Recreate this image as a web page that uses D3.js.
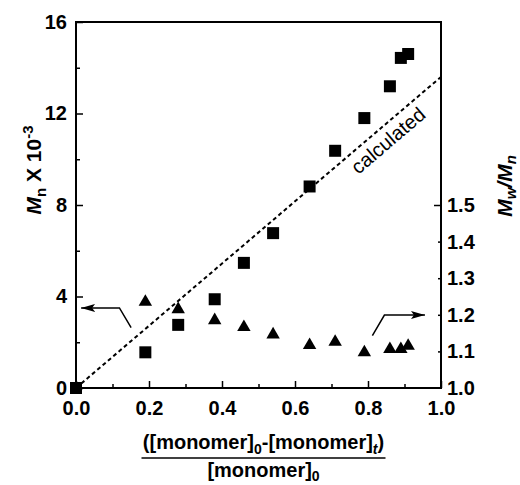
<!DOCTYPE html>
<html>
<head>
<meta charset="utf-8">
<script src="https://cdn.jsdelivr.net/npm/d3@7"></script>
<style>
  body { margin: 0; background: #fff; }
  text { font-family: Arial, "Liberation Sans", Helvetica, sans-serif; }
</style>
</head>
<body>
<svg id="chart" width="520" height="485"></svg>
<script>
// conversion ([M]0-[M]t)/[M]0
const conversion = [0, 0.19, 0.28, 0.38, 0.46, 0.54, 0.64, 0.71, 0.79, 0.86, 0.89, 0.91];
// Mn x 10^-3 (squares)
const mnValues = [0, 1.56, 2.76, 3.88, 5.47, 6.77, 8.81, 10.37, 11.8, 13.19, 14.43, 14.6];
// Mw/Mn (triangles), none at zero conversion
const pdiValues = [null, 1.235, 1.215, 1.185, 1.166, 1.146, 1.117, 1.126, 1.097, 1.106, 1.106, 1.115];
// calculated Mn line
const calcX = [0, 1];
const calcMn = [0, 13.6];

const xTicks = [0, 0.2, 0.4, 0.6, 0.8, 1.0];
const mnTicks = [0, 4, 8, 12, 16];
const pdiTicks = [1.0, 1.1, 1.2, 1.3, 1.4, 1.5];

const svg = d3.select("#chart");
const margin = { left: 76, right: 79, top: 22, bottom: 97 };
const width = 520 - margin.left - margin.right,
      height = 485 - margin.top - margin.bottom;

const g = svg.append("g").attr("transform", `translate(${margin.left},${margin.top})`);

const x = d3.scaleLinear().domain([0, 1]).range([0, width]);
const y = d3.scaleLinear().domain([0, 16]).range([height, 0]);
const y2 = d3.scaleLinear().domain([1.0, 2.0]).range([height, 0]);

// minor ticks first
g.append("g")
    .attr("transform", `translate(0,${height})`)
    .call(d3.axisBottom(x).tickValues([0.1, 0.3, 0.5, 0.7, 0.9]).tickSize(-4).tickFormat(""))
    .call(a => a.select(".domain").remove());
g.append("g")
    .call(d3.axisLeft(y).tickValues([2, 6, 10, 14]).tickSize(-4).tickFormat(""))
    .call(a => a.select(".domain").remove());
g.append("g")
    .attr("transform", `translate(${width},0)`)
    .call(d3.axisRight(y2).tickValues([1.1, 1.2, 1.3, 1.4]).tickSize(-3).tickFormat(""))
    .call(a => a.select(".domain").remove());

// major axes
const xAxis = g.append("g")
    .attr("transform", `translate(0,${height})`)
    .call(d3.axisBottom(x).tickValues(xTicks).tickSize(-7).tickPadding(13).tickFormat(d3.format(".1f")));
const yAxis = g.append("g")
    .call(d3.axisLeft(y).tickValues(mnTicks).tickSize(-7).tickPadding(9).tickFormat(d3.format("d")));
const y2Axis = g.append("g")
    .attr("transform", `translate(${width},0)`)
    .call(d3.axisRight(y2).tickValues(pdiTicks).tickSize(0).tickPadding(6).tickFormat(d3.format(".1f")));
g.append("g")
    .attr("transform", `translate(${width},0)`)
    .call(d3.axisRight(y2).tickValues([1.5]).tickSize(-7).tickFormat(""))
    .call(a => a.select(".domain").remove());

[xAxis, yAxis, y2Axis].forEach(a => {
    a.select(".domain").remove();
    a.selectAll("text").style("font-size", "20px").style("font-weight", "bold").attr("fill", "#000");
});
g.selectAll(".tick line").attr("stroke", "#000").attr("stroke-width", 1.5);

// frame
g.append("rect")
    .attr("width", width).attr("height", height)
    .attr("fill", "none").attr("stroke", "#000").attr("stroke-width", 2);

// calculated line
const calcData = calcX.map((d, i) => [d, calcMn[i]]);
g.append("path")
    .datum(calcData)
    .attr("d", d3.line().x(d => x(d[0])).y(d => y(d[1])))
    .attr("fill", "none").attr("stroke", "#000")
    .attr("stroke-width", 2).attr("stroke-dasharray", "4,3");

const angle = Math.atan2(y(calcMn[1]) - y(calcMn[0]), x(calcX[1]) - x(calcX[0])) * 180 / Math.PI;
const lx = 0.83, ly = calcMn[1] * lx;
const rad = angle * Math.PI / 180;
const off = 21;
g.append("text")
    .attr("transform", `translate(${x(lx) - Math.sin(rad) * off},${y(ly) + Math.cos(rad) * off}) rotate(${angle})`)
    .attr("text-anchor", "middle")
    .style("font-size", "20px")
    .text("calculated");

// annotation arrows
const defs = svg.append("defs");
defs.append("marker")
    .attr("id", "arrow")
    .attr("viewBox", "0 0 14 8")
    .attr("refX", 14).attr("refY", 4)
    .attr("markerUnits", "userSpaceOnUse")
    .attr("markerWidth", 14).attr("markerHeight", 8)
    .attr("orient", "auto")
    .append("path").attr("d", "M0,0 L14,4 L0,8 L3,4 Z").attr("fill", "#000");

const leftArrow = [[0.151, 2.64], [0.119, 3.5], [0.014, 3.5]];
const rightArrow = [[0.812, 2.29], [0.845, 3.19], [0.956, 3.19]];
[leftArrow, rightArrow].forEach(pts => {
    g.append("path")
        .attr("d", d3.line().x(d => x(d[0])).y(d => y(d[1]))(pts))
        .attr("fill", "none").attr("stroke", "#000").attr("stroke-width", 1.5)
        .attr("marker-end", "url(#arrow)");
});

// squares: Mn
g.selectAll(".sq")
    .data(conversion.map((c, i) => ({ c, v: mnValues[i] })))
    .join("path")
    .attr("class", "sq")
    .attr("transform", d => `translate(${x(d.c)},${y(d.v)})`)
    .attr("d", d3.symbol(d3.symbolSquare, 144))
    .attr("fill", "#000");

// triangles: Mw/Mn
g.selectAll(".tri")
    .data(conversion.map((c, i) => ({ c, v: pdiValues[i] })).filter(d => d.v != null))
    .join("path")
    .attr("class", "tri")
    .attr("transform", d => `translate(${x(d.c)},${y2(d.v)})`)
    .attr("d", d3.symbol(d3.symbolTriangle, 78))
    .attr("fill", "#000");

// left axis title
const ylab = svg.append("text")
    .attr("transform", "translate(41,170) rotate(-90)")
    .attr("text-anchor", "middle")
    .style("font-size", "21px").style("font-weight", "bold");
ylab.append("tspan").style("font-style", "italic").text("M");
ylab.append("tspan").attr("dy", 5).style("font-size", "15px").text("n");
ylab.append("tspan").attr("dy", -5).text(" X 10");
ylab.append("tspan").attr("dy", -8).style("font-size", "15px").text("-3");

// right axis title
const y2lab = svg.append("text")
    .attr("transform", "translate(512,186) rotate(-90)")
    .attr("text-anchor", "middle")
    .style("font-size", "21px").style("font-weight", "bold").style("font-style", "italic");
y2lab.append("tspan").text("M");
y2lab.append("tspan").attr("dy", 4).style("font-size", "15px").text("w");
y2lab.append("tspan").attr("dy", -4).text("/M");
y2lab.append("tspan").attr("dy", 4).style("font-size", "15px").text("n");

// x axis title as a fraction
const cx = margin.left + width / 2 + 5;
const num = svg.append("text")
    .attr("x", cx).attr("y", 449)
    .attr("text-anchor", "middle")
    .style("font-size", "20px").style("font-weight", "bold");
num.append("tspan").text("([monomer]");
num.append("tspan").attr("dy", 5).style("font-size", "14px").text("0");
num.append("tspan").attr("dy", -5).text("-[monomer]");
num.append("tspan").attr("dy", 5).style("font-size", "14px").style("font-style", "italic").text("t");
num.append("tspan").attr("dy", -5).text(")");

svg.append("line")
    .attr("x1", cx - 122).attr("x2", cx + 122)
    .attr("y1", 458).attr("y2", 458)
    .attr("stroke", "#000").attr("stroke-width", 1.5);

const den = svg.append("text")
    .attr("x", cx).attr("y", 477)
    .attr("text-anchor", "middle")
    .style("font-size", "20px").style("font-weight", "bold");
den.append("tspan").text("[monomer]");
den.append("tspan").attr("dy", 4).style("font-size", "14px").text("0");
</script>
</body>
</html>
